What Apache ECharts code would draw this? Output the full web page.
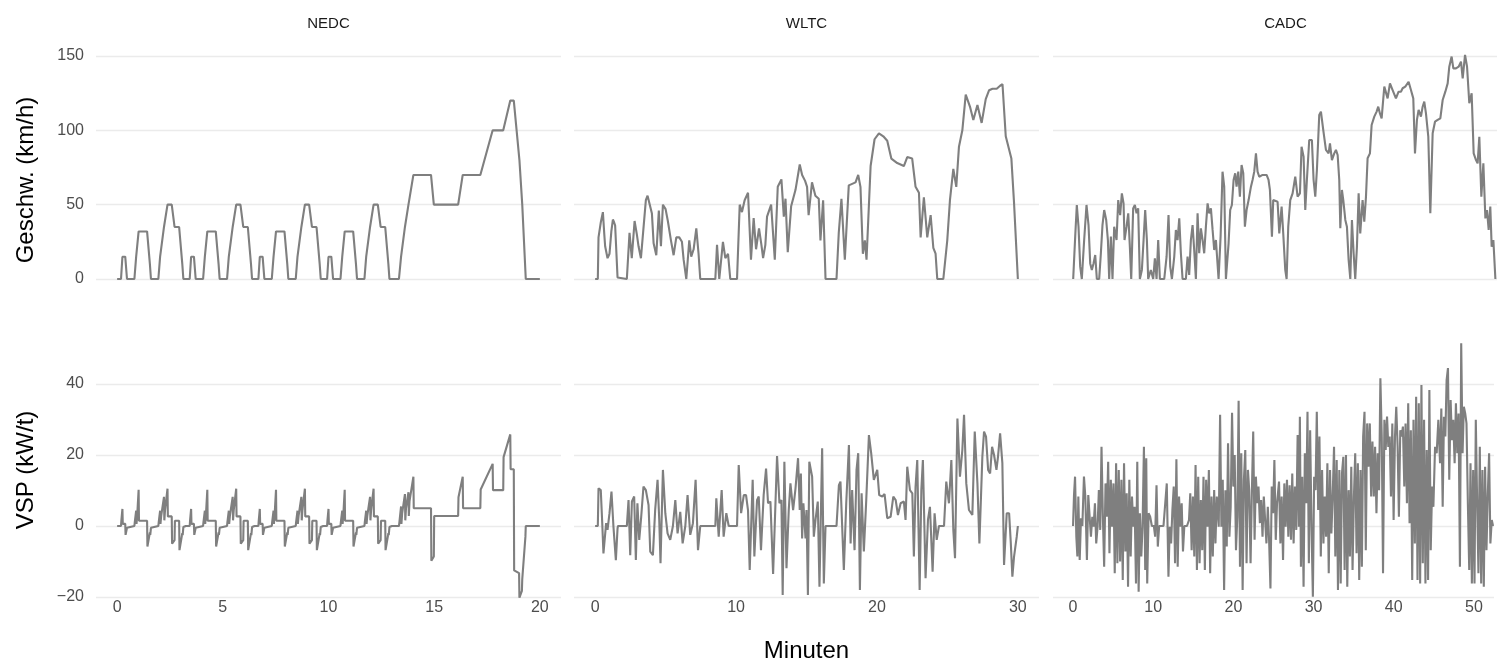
<!DOCTYPE html>
<html><head><meta charset="utf-8">
<script src="https://cdn.jsdelivr.net/npm/echarts@6.0.0/dist/echarts.min.js"></script>
<style>html,body{margin:0;padding:0;background:#fff}#c{width:1497px;height:669px}</style>
</head><body><div id="c"></div>
<script>
// ---------- DATA ----------
const cycles = ['NEDC', 'WLTC', 'CADC'];
const xTicksNEDC = [0, 5, 10, 15, 20];
const xTicksWLTC = [0, 10, 20, 30];
const xTicksCADC = [0, 10, 20, 30, 40, 50];
const yTicksSpeed = [0, 50, 100, 150];
const yTicksVSP = [-20, 0, 20, 40];
const yTitles = ['Geschw. (km/h)', 'VSP (kW/t)'];
const xTitle = 'Minuten';

// NEDC speed: [seconds, km/h]
const nedcSpeed = [
[0,0],[11,0],[15,15],[23,15],[28,0],[49,0],[54,15],[56,15],[61,32],[85,32],[93,10],[96,0],[117,0],[122,15],[124,15],[133,35],[135,35],[143,50],[155,50],[163,35],[176,35],[185,10],[188,0],
[195,0],[206,0],[210,15],[218,15],[223,0],[244,0],[249,15],[251,15],[256,32],[280,32],[288,10],[291,0],[312,0],[317,15],[319,15],[328,35],[330,35],[338,50],[350,50],[358,35],[371,35],[380,10],[383,0],
[390,0],[401,0],[405,15],[413,15],[418,0],[439,0],[444,15],[446,15],[451,32],[475,32],[483,10],[486,0],[507,0],[512,15],[514,15],[523,35],[525,35],[533,50],[545,50],[553,35],[566,35],[575,10],[578,0],
[585,0],[596,0],[600,15],[608,15],[613,0],[634,0],[639,15],[641,15],[646,32],[670,32],[678,10],[681,0],[702,0],[707,15],[709,15],[718,35],[720,35],[728,50],[740,50],[748,35],[761,35],[770,10],[773,0],
[780,0],[800,0],[806,15],[808,15],[817,35],[819,35],[827,50],[829,50],[841,70],[891,70],[899,50],[968,50],[981,70],[1031,70],[1066,100],[1096,100],[1116,120],[1126,120],[1142,80],[1150,50],[1160,0],[1200,0]
];
// NEDC VSP: [seconds, kW/t]
const nedcVSP = [
[0,0],[11,0],[12,1.5],[15,4.8],[16,0.6],[23,0.6],[24,-2.5],[28,-0.5],[29,0],[49,0],[50,1],[54,4.3],[55,0.6],[56,0.6],[57,3],[61,10.2],[62,1.5],[85,1.5],[86,-5.8],[93,-1.8],[94,-2.5],[96,-0.5],[97,0],[117,0],[118,1],[122,4.3],[123,0.6],[124,0.6],[125,2.8],[133,8.2],[134,1.6],[135,1.6],[136,4.5],[143,10.5],[144,2.7],[155,2.7],[156,-5],[163,-4],[164,1.5],[176,1.5],[177,-6.8],[185,-2],[186,-2.6],[188,-0.3],[189,0],
[195,0],[206,0],[207,1.5],[210,4.8],[211,0.6],[218,0.6],[219,-2.5],[223,-0.5],[224,0],[244,0],[245,1],[249,4.3],[250,0.6],[251,0.6],[252,3],[256,10.2],[257,1.5],[280,1.5],[281,-5.8],[288,-1.8],[289,-2.5],[291,-0.5],[292,0],[312,0],[313,1],[317,4.3],[318,0.6],[319,0.6],[320,2.8],[328,8.2],[329,1.6],[330,1.6],[331,4.5],[338,10.5],[339,2.7],[350,2.7],[351,-5],[358,-4],[359,1.5],[371,1.5],[372,-6.8],[380,-2],[381,-2.6],[383,-0.3],[384,0],
[390,0],[401,0],[402,1.5],[405,4.8],[406,0.6],[413,0.6],[414,-2.5],[418,-0.5],[419,0],[439,0],[440,1],[444,4.3],[445,0.6],[446,0.6],[447,3],[451,10.2],[452,1.5],[475,1.5],[476,-5.8],[483,-1.8],[484,-2.5],[486,-0.5],[487,0],[507,0],[508,1],[512,4.3],[513,0.6],[514,0.6],[515,2.8],[523,8.2],[524,1.6],[525,1.6],[526,4.5],[533,10.5],[534,2.7],[545,2.7],[546,-5],[553,-4],[554,1.5],[566,1.5],[567,-6.8],[575,-2],[576,-2.6],[578,-0.3],[579,0],
[585,0],[596,0],[597,1.5],[600,4.8],[601,0.6],[608,0.6],[609,-2.5],[613,-0.5],[614,0],[634,0],[635,1],[639,4.3],[640,0.6],[641,0.6],[642,3],[646,10.2],[647,1.5],[670,1.5],[671,-5.8],[678,-1.8],[679,-2.5],[681,-0.5],[682,0],[702,0],[703,1],[707,4.3],[708,0.6],[709,0.6],[710,2.8],[718,8.2],[719,1.6],[720,1.6],[721,4.5],[728,10.5],[729,2.7],[740,2.7],[741,-5],[748,-4],[749,1.5],[761,1.5],[762,-6.8],[770,-2],[771,-2.6],[773,-0.3],[774,0],
[780,0],[800,0],[801,0.8],[806,5.5],[807,0.6],[808,0.6],[809,3.5],[817,9],[818,1.6],[819,1.6],[820,5],[827,9.5],[828,2.8],[829,2.8],[830,7],[841,13.9],[842,5],[891,5],[892,-9.8],[899,-8.6],[900,2.8],[968,2.8],[969,8.1],[981,13.9],[982,5],[1031,5],[1032,10.3],[1066,17.5],[1067,10.1],[1096,10.1],[1097,19.4],[1116,25.8],[1117,16],[1126,16],[1127,-12.5],[1141,-13.3],[1142,-20.2],[1149,-18.3],[1150,-15],[1159,-3],[1160,0],[1200,0]
];

// WLTC speed: [minutes, km/h]
const wltcSpeed = [
[0,0],[0.19,0],[0.24,28],[0.4,38],[0.55,45],[0.65,30],[0.71,22],[0.88,14],[1.02,17],[1.15,32],[1.26,40],[1.35,38],[1.42,36],[1.59,1],[1.62,0],[2.25,0],[2.44,31],[2.6,14],[2.8,39],[2.96,30],[3.08,22],[3.25,14],[3.36,15],[3.6,53],[3.72,56],[3.84,57],[4.03,44],[4.15,24],[4.34,16],[4.52,46],[4.67,22],[4.81,50],[5.0,47],[5.16,39],[5.38,26],[5.57,16],[5.76,28],[5.97,28],[6.16,25],[6.28,13],[6.47,0],[6.68,26],[6.82,15],[6.99,20],[7.18,34],[7.34,17],[7.46,0],[8.53,0],[8.65,23],[8.81,0],[9.07,25],[9.24,14],[9.43,17],[9.59,0],[10.07,0],[10.26,50],[10.42,45],[10.61,53],[10.85,58],[11.06,13],[11.25,41],[11.42,20],[11.63,34],[11.8,23],[11.92,14],[12.08,23],[12.2,42],[12.49,50],[12.63,51],[12.75,13],[12.96,62],[13.22,67],[13.39,42],[13.51,54],[13.67,18],[13.91,49],[14.22,60],[14.52,77],[14.69,70],[14.9,66],[15.04,62],[15.15,43],[15.39,65],[15.63,56],[15.87,54],[15.99,26],[16.18,53],[16.35,0],[17.13,0],[17.29,31],[17.48,54],[17.72,13],[18.0,63],[18.24,64],[18.48,65],[18.67,70],[18.83,62],[19.0,17],[19.14,26],[19.26,13],[19.55,76],[19.83,94],[20.14,98],[20.45,96],[20.73,93],[21.02,81],[21.44,78],[21.91,76],[22.15,82],[22.5,81],[22.74,62],[22.98,58],[23.1,28],[23.33,55],[23.57,28],[23.81,43],[24.0,21],[24.16,17],[24.28,0],[24.71,0],[24.99,26],[25.18,53],[25.42,74],[25.63,62],[25.82,89],[26.06,100],[26.3,124],[26.6,116],[26.84,107],[27.13,117],[27.43,105],[27.72,121],[27.96,127],[28.2,128],[28.5,128],[28.74,130],[28.91,131],[29.14,96],[29.54,81],[29.73,51],[30.0,0]
];
// WLTC VSP: [minutes, kW/t]
const wltcVSP = [
[0,0],[0.19,0],[0.24,10.6],[0.4,10.1],[0.5,1.2],[0.59,-7.7],[0.78,0.8],[0.88,-1.1],[1.02,3.6],[1.16,9.7],[1.3,-0.2],[1.47,-9.6],[1.59,-0.7],[1.62,0],[2.25,0],[2.37,7.3],[2.49,-8.2],[2.61,6.9],[2.77,8.3],[2.89,-9.6],[3.0,6.4],[3.13,-3.9],[3.27,2.6],[3.43,11.1],[3.6,10.1],[3.79,5.9],[3.91,-7.2],[4.1,-8.2],[4.26,4.5],[4.43,13],[4.55,1.7],[4.64,-10.5],[4.81,15.8],[4.98,3.6],[5.14,-2.1],[5.33,-3.9],[5.52,0],[5.69,7.3],[5.85,-2.1],[6.04,4],[6.21,-4.9],[6.4,0],[6.56,8.7],[6.75,-2.5],[6.94,0.8],[7.13,13],[7.3,-6.8],[7.46,0],[8.53,0],[8.6,7.8],[8.77,-3],[8.98,10.1],[9.12,-3],[9.31,3.6],[9.48,0],[10.07,0],[10.19,17.2],[10.36,3.6],[10.55,8.7],[10.71,8.7],[10.85,4.4],[10.97,-12.4],[11.18,13],[11.3,-8.6],[11.49,7.3],[11.61,8.3],[11.77,-6.8],[11.96,8.7],[12.13,16.2],[12.27,6.4],[12.44,6.9],[12.63,-13.5],[12.91,19.7],[13.08,6.4],[13.22,7.3],[13.31,-19.4],[13.43,18.1],[13.58,-11.9],[13.74,4.5],[13.86,12],[14.05,4.5],[14.22,10.6],[14.4,19.1],[14.52,4.5],[14.6,14.8],[14.69,-3.5],[14.78,6.4],[14.93,-3.5],[15.0,4.5],[15.1,-19.4],[15.2,18.1],[15.4,13.9],[15.52,-3],[15.64,1.7],[15.8,6.9],[15.92,-17.1],[16.11,21.9],[16.23,-16.2],[16.35,0],[17.13,0],[17.3,11.5],[17.41,12.5],[17.65,-12.4],[17.82,6.4],[18.01,22.8],[18.13,-4.9],[18.24,10.1],[18.41,-6.8],[18.55,15.8],[18.67,20.5],[18.79,-18],[18.91,9.2],[19.07,-7.2],[19.24,7.3],[19.43,25.6],[19.59,20.5],[19.78,13],[20.02,15.8],[20.16,8.7],[20.38,8.3],[20.54,9],[20.73,2.2],[20.97,2.6],[21.16,8.3],[21.33,7.3],[21.49,3.1],[21.68,6.4],[21.91,6.9],[22.03,1.7],[22.15,16.7],[22.34,10.1],[22.51,9.2],[22.62,-8.6],[22.74,11.1],[22.86,18.6],[23.03,-18],[23.15,10.1],[23.26,18.6],[23.45,-14.7],[23.62,1.7],[23.76,5.4],[23.95,-12.9],[24.09,3.6],[24.24,-3.9],[24.4,0],[24.76,0],[24.92,12.5],[25.11,6.4],[25.28,18.6],[25.42,-1.1],[25.54,-9.1],[25.71,30.3],[25.89,13.9],[26.06,21.4],[26.18,31.3],[26.34,12],[26.53,4.5],[26.77,3.1],[26.94,26.6],[27.13,12],[27.27,-4.9],[27.48,19.5],[27.6,26.6],[27.74,25.2],[27.89,15.8],[28.03,14.8],[28.17,22.3],[28.31,20],[28.48,15.8],[28.59,19.5],[28.74,26.1],[28.9,17.7],[29.02,-11],[29.21,3.6],[29.38,3.6],[29.5,-4.9],[29.61,-14.3],[29.73,-8.6],[29.92,-3],[30.0,0]
];

// CADC speed: [minutes, km/h]
const cadcSpeed = [
[0,0],[0.25,28.5],[0.45,49.8],[0.66,35.2],[0.87,8.3],[1.07,0],[1.36,26.2],[1.65,49.8],[1.9,36.3],[2.11,10.5],[2.31,6.1],[2.52,10.5],[2.73,16.1],[2.93,0],[3.22,0],[3.43,17.3],[3.63,36.3],[3.84,46.4],[4.09,39.7],[4.3,26.2],[4.46,0],[4.67,28.5],[4.87,0],[5.08,35.2],[5.37,26.2],[5.58,53.1],[5.82,43],[6.03,57.6],[6.24,50.9],[6.36,26.2],[6.61,35.2],[6.82,44.2],[7.02,21.7],[7.19,0],[7.43,47.5],[7.64,49.8],[7.85,44.2],[8.05,47.5],[8.26,0],[8.51,6.1],[8.72,26.2],[8.92,46.4],[9.13,26.2],[9.29,0],[9.62,6.1],[9.91,0],[10.12,13.9],[10.33,0],[10.53,26.2],[10.74,0],[11.28,0],[11.57,15],[11.81,43],[12.02,8.3],[12.23,0],[12.52,15],[12.72,33],[12.93,26.2],[13.14,40.8],[13.34,17.3],[13.55,0],[13.96,0],[14.17,15],[14.37,2.7],[14.58,26.2],[14.79,36.3],[14.99,19.5],[15.2,0],[15.41,44.2],[15.61,17.3],[15.82,34.1],[16.03,26.2],[16.23,17.3],[16.44,35.2],[16.65,50.9],[16.85,44.2],[17.06,47.5],[17.27,33],[17.47,19.5],[17.68,26.2],[18.01,0],[18.26,28.5],[18.5,72.2],[18.71,62.1],[18.92,0],[19.25,24],[19.45,46.4],[19.66,49.8],[19.87,66.6],[20.07,71.1],[20.24,62.1],[20.45,72.2],[20.65,55.4],[20.86,76.7],[21.07,71.1],[21.27,35.2],[21.48,46.4],[21.73,53.1],[22.02,62.1],[22.22,66.6],[22.43,72.2],[22.64,84.5],[22.84,72.2],[23.05,68.8],[23.46,70],[23.96,70],[24.2,66.6],[24.37,59.9],[24.62,28.5],[24.78,53.1],
[25.32,52],[25.53,30.7],[25.82,48.7],[26.02,30.7],[26.27,6.1],[26.44,0],[26.64,35.2],[26.89,53.1],[27.18,57.6],[27.34,57.6],[27.51,68.8],[27.8,55.4],[28.09,57.6],[28.29,89],[28.54,82.3],[28.75,46.4],[28.95,66.6],[29.24,93.5],[29.57,93.5],[29.78,66.6],[29.99,55.4],[30.19,73.3],[30.48,110.3],[30.69,112.6],[30.98,100.2],[31.31,86.8],[31.64,84.5],[31.81,91.3],[32.05,80],[32.34,84.5],[32.55,86.8],[32.76,83.4],[32.96,66.6],[33.09,34.1],[33.29,59.9],[33.46,53.1],[33.71,39.7],[33.91,35.2],[34.12,12.8],[34.33,0],[34.53,39.7],[34.74,17.3],[34.94,0],[35.15,21.7],[35.36,57.6],[35.56,30.7],[35.85,53.1],[36.06,38.6],[36.27,55.4],[36.47,81.2],[36.76,84.5],[36.97,103.6],[37.3,109.2],[37.59,112.6],[37.79,115.9],[38,111.4],[38.21,108.1],[38.54,129.4],[38.75,129.4],[38.95,121.5],[39.24,131.6],[39.57,127.1],[39.98,121.5],[40.31,126],[40.6,126],[40.81,128.3],[41.14,129.4],[41.55,132.7],[41.84,127.1],[42.13,121.5],[42.34,84.5],[42.58,107],[42.79,113.7],[43.08,109.2],[43.29,115.9],[43.49,119.3],[43.7,111.4],[43.99,95.7],[44.24,44.2],[44.53,98],[44.82,105.8],[45.15,107],[45.48,108.1],[45.77,120.4],[46.1,126],[46.39,131.6],[46.59,142.8],[46.88,149.6],[47.09,141.7],[47.42,141.7],[47.75,142.8],[48.04,146.2],[48.25,135],[48.54,150.7],[48.79,142.8],[49.07,118.2],[49.36,124.9],[49.61,84.5],[49.9,80],[50.1,77.8],[50.31,95.7],[50.56,55.4],[50.81,77.8],[51.06,40.8],[51.26,46.4],[51.47,33],[51.67,48.7],[51.84,21.7],[52.05,26.2],[52.3,0],[52.38,0]
];
// CADC VSP: [minutes, kW/t]
const cadcVSP = [
[0,0],[0.12,8.7],[0.25,13.9],[0.41,-3],[0.54,-8.6],[0.66,8.3],[0.83,-9.6],[0.99,2.2],[1.16,0],[1.36,13.9],[1.53,8.3],[1.73,-9.6],[1.9,8.7],[2.07,2.6],[2.23,-3],[2.4,2.6],[2.56,-0.2],[2.73,6.4],[2.89,-4.9],[3.06,-0.2],[3.22,10.1],[3.39,-1.1],[3.55,22.3],[3.72,2.6],[3.88,-11.5],[4.05,12],[4.21,2.6],[4.38,18.1],[4.54,-7.7],[4.71,13],[4.87,-0.2],[5.04,12],[5.2,-13.3],[5.37,17.7],[5.53,-10.5],[5.7,15.8],[5.87,-10],[6.03,13],[6.2,-15.2],[6.36,17.7],[6.53,-7.2],[6.69,9.2],[6.86,-17.1],[7.02,13],[7.19,-8.6],[7.35,8.3],[7.52,-0.2],[7.68,5.4],[7.85,-16.2],[8.01,18.1],[8.18,-18.5],[8.34,3.6],[8.51,-8.6],[8.67,-0.2],[8.84,22.3],[9.0,-12.4],[9.13,19.1],[9.25,-16.2],[9.42,3.6],[9.62,2.6],[9.83,0],[10.08,0],[10.24,-3],[10.41,11.5],[10.57,-5.8],[10.74,0],[11.28,0],[11.48,0],[11.69,12],[11.9,-14.3],[12.06,-0.2],[12.23,-4.9],[12.39,4.5],[12.56,11.1],[12.72,-10.5],[12.89,18.8],[13.05,-11.5],[13.22,8.3],[13.38,-0.2],[13.55,6.4],[13.71,-7.2],[13.88,0],[14.21,0],[14.46,1.7],[14.62,9.2],[14.79,-6.8],[14.95,8.3],[15.12,-8.6],[15.28,17.2],[15.45,-12.4],[15.61,13.9],[15.78,-10.5],[15.94,7.3],[16.11,-6.8],[16.27,13.9],[16.44,-12.4],[16.6,13],[16.77,-0.2],[16.94,15.8],[17.1,-13.3],[17.27,8.3],[17.43,-8.6],[17.6,10.1],[17.76,-4.9],[17.93,8.3],[18.17,-0.2],[18.34,31.3],[18.5,-0.2],[18.67,13],[18.84,-18],[19.0,10.1],[19.17,-5.8],[19.33,23.3],[19.5,-3],[19.66,5.4],[19.83,31.9],[19.99,11.1],[20.16,20],[20.32,-6.8],[20.49,2.6],[20.65,35.3],[20.82,-11.5],[20.98,20.5],[21.15,-18],[21.31,13],[21.48,21.4],[21.64,-10.5],[21.81,15.8],[21.97,10.1],[22.14,-10.5],[22.3,9.2],[22.47,26.6],[22.64,-3.9],[22.8,13.9],[22.97,6.4],[23.13,11.1],[23.3,0.8],[23.46,7.3],[23.63,-3],[23.79,8.3],[23.96,8.3],[24.12,-4.9],[24.29,5.4],[24.45,-3.9],[24.62,-17.6],[24.78,11.1],[24.95,3.6],[25.11,18.6],[25.28,-3.9],[25.44,6.4],
[25.69,12.5],[25.86,-4.9],[26.02,8.3],[26.19,-9.6],[26.35,12],[26.52,-0.2],[26.68,13],[26.85,-3],[27.01,11.5],[27.18,-3.9],[27.34,14.8],[27.51,-4.9],[27.67,11.1],[27.84,-1.1],[28.01,25.6],[28.17,-0.2],[28.29,30.8],[28.42,-11.5],[28.58,13.9],[28.75,-17.1],[28.91,20.5],[29.08,6.4],[29.24,32.2],[29.41,-10.5],[29.57,27],[29.74,-0.2],[29.91,-19.9],[30.07,13.9],[30.24,10.1],[30.4,32.2],[30.57,4.5],[30.73,25.2],[30.9,-8.6],[31.06,15.8],[31.23,-4.9],[31.39,8.3],[31.56,-3],[31.72,17.7],[31.89,-13.3],[32.05,15.8],[32.22,-2.1],[32.38,8.3],[32.55,22.3],[32.71,-8.6],[32.88,18.6],[33.04,-18],[33.21,15.8],[33.38,-16.2],[33.54,14.8],[33.71,19.5],[33.87,-12.4],[34.04,20],[34.2,-17.1],[34.37,10.1],[34.53,-8.6],[34.7,16.7],[34.86,-12.4],[35.03,8.3],[35.19,20.5],[35.36,-7.7],[35.52,17.7],[35.69,-15.2],[35.85,15.8],[36.02,-11.5],[36.18,25.2],[36.35,32.2],[36.51,-6.8],[36.68,28.9],[36.84,16.7],[37.01,28.9],[37.18,8.3],[37.34,23.8],[37.51,8.3],[37.67,22.3],[37.84,3.6],[38.0,20.5],[38.17,10.1],[38.33,41.6],[38.5,25.2],[38.66,-13.3],[38.83,29.9],[38.99,21.4],[39.16,30.8],[39.32,22.3],[39.49,25.2],[39.65,8.3],[39.82,28.9],[39.98,1.7],[40.15,25.2],[40.31,33.6],[40.48,22.3],[40.64,2.6],[40.81,27],[40.97,25.2],[41.14,28],[41.31,11.1],[41.47,28.9],[41.64,6.4],[41.8,34.6],[41.97,0.8],[42.13,27],[42.3,-15.2],[42.46,29.9],[42.63,-4.9],[42.79,36.4],[42.96,-15.2],[43.12,34.6],[43.29,-16.2],[43.45,39.7],[43.62,-10.5],[43.78,29.9],[43.95,-16.2],[44.11,21.4],[44.28,-15.2],[44.44,38.3],[44.61,-6.8],[44.78,11.1],[44.94,5.4],[45.15,22.3],[45.35,20.5],[45.56,29.9],[45.77,17.7],[45.93,33.1],[46.1,5.4],[46.26,30.8],[46.43,25.2],[46.59,41.1],[46.76,44.5],[46.92,13],[47.09,35.5],[47.25,24.2],[47.42,29.9],[47.59,17.7],[47.75,34.6],[47.92,20.5],[48.08,31.7],[48.25,-11.5],[48.41,51.5],[48.58,20.5],[48.74,33.6],[48.91,31.7],[49.07,28.9],[49.24,6.4],[49.41,-12.4],[49.57,17.7],[49.74,-16.2],[49.9,15.8],[50.07,-16.2],[50.23,29.9],[50.4,6.4],[50.56,-13.3],[50.73,22.3],[50.9,-16.2],[51.06,15.8],[51.23,-17.1],[51.39,16.7],[51.56,-6.8],[51.72,8.3],[51.89,20.5],[52.05,-4.9],[52.22,1.7],[52.38,0]
];

// ---------- CHART ----------
const FONT = '"Liberation Sans", Arial, Helvetica, sans-serif';
const PW = 465;
const colsCfg = [
  {left: 96,   width: 465, min: -1,   max: 21,   step: 1,   ticks: xTicksNEDC},
  {left: 574,  width: 465, min: -1.5, max: 31.5, step: 0.5, ticks: xTicksWLTC},
  {left: 1053, width: 444, min: -2.5, max: 52.5, step: 0.5, ticks: xTicksCADC}
];
const rowsCfg = [
  {top: 56,  height: 223, ticks: yTicksSpeed, interval: 50, titleY: 180},
  {top: 384, height: 213, ticks: yTicksVSP,   interval: 20, titleY: 470}
];
const seriesData = [
  [nedcSpeed.map(p => [p[0] / 60, p[1]]), wltcSpeed, cadcSpeed],
  [nedcVSP.map(p => [p[0] / 60, p[1]]),   wltcVSP,   cadcVSP]
];

const grid = [], xAxis = [], yAxis = [], series = [];
rowsCfg.forEach((r, ri) => {
  colsCfg.forEach((c, ci) => {
    const idx = grid.length;
    grid.push({left: c.left, top: r.top, width: c.width, height: r.height, containLabel: false});
    xAxis.push({
      type: 'value', gridIndex: idx, min: c.min, max: c.max, interval: c.step,
      axisLine: {show: false}, axisTick: {show: false}, splitLine: {show: false},
      axisLabel: {
        show: ri === 1, margin: 3, color: '#4d4d4d', fontSize: 16, fontFamily: FONT,
        formatter: v => { const k = Math.round(v); if (Math.abs(v - k) > 1e-6) return ''; return c.ticks.indexOf(k) >= 0 ? String(k) : ''; }
      },
      name: (ri === 1 && ci === 1) ? xTitle : '',
      nameLocation: 'middle', nameGap: 42,
      nameTextStyle: {color: '#000', fontSize: 24, fontFamily: FONT}
    });
    yAxis.push({
      type: 'value', gridIndex: idx, min: r.ticks[0], max: r.ticks[r.ticks.length - 1], interval: r.interval,
      axisLine: {show: false}, axisTick: {show: false},
      splitLine: {show: true, lineStyle: {color: '#ebebeb', width: 1.4}},
      axisLabel: {
        show: ci === 0, margin: 12, color: '#4d4d4d', fontSize: 16, fontFamily: FONT,
        formatter: v => v < 0 ? '\u2212' + Math.abs(v) : String(v)
      }
    });
    series.push({
      type: 'line', xAxisIndex: idx, yAxisIndex: idx, data: seriesData[ri][ci],
      showSymbol: false, symbol: 'none', clip: false, silent: true,
      lineStyle: {color: '#7f7f7f', width: 2.1}, z: 3
    });
  });
});

const graphic = cycles.map((name, ci) => ({
  type: 'text', x: colsCfg[ci].left + PW / 2, y: 24,
  style: {text: name, align: 'center', verticalAlign: 'middle', fill: '#1a1a1a', font: '15px ' + FONT}
})).concat(rowsCfg.map((r, ri) => ({
  type: 'text', x: 26, y: r.titleY, rotation: Math.PI / 2,
  style: {text: yTitles[ri], align: 'center', verticalAlign: 'middle', fill: '#000', font: '24px ' + FONT}
})));

const chart = echarts.init(document.getElementById('c'), null, {renderer: 'canvas'});
chart.setOption({animation: false, backgroundColor: '#fff', grid, xAxis, yAxis, series, graphic});
</script>
</body></html>
